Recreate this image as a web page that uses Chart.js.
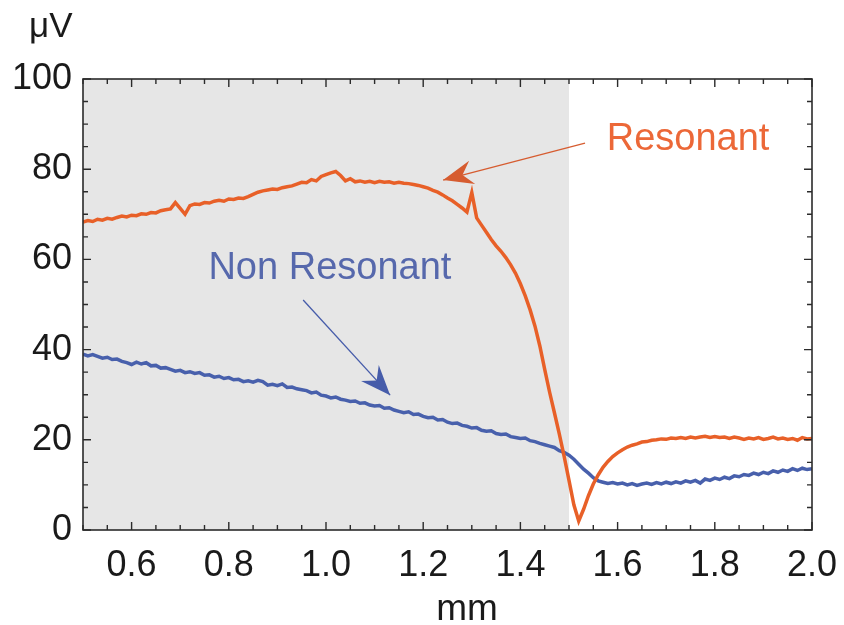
<!DOCTYPE html>
<html>
<head>
<meta charset="utf-8">
<script src="https://cdn.jsdelivr.net/npm/chart.js@4"></script>
<style>
  html, body { margin: 0; padding: 0; background: #fff; }
  #wrap { width: 844px; height: 625px; }
</style>
</head>
<body>
<div id="wrap"><canvas id="chart" width="844" height="625"></canvas></div>
<script>
// position along the sample, mm
const positions = [
  0.50, 0.51, 0.52, 0.53, 0.54, 0.55, 0.56, 0.57, 0.58, 0.59,
  0.60, 0.61, 0.62, 0.63, 0.64, 0.65, 0.66, 0.67, 0.68, 0.69,
  0.70, 0.71, 0.72, 0.73, 0.74, 0.75, 0.76, 0.77, 0.78, 0.79,
  0.80, 0.81, 0.82, 0.83, 0.84, 0.85, 0.86, 0.87, 0.88, 0.89,
  0.90, 0.91, 0.92, 0.93, 0.94, 0.95, 0.96, 0.97, 0.98, 0.99,
  1.00, 1.01, 1.02, 1.03, 1.04, 1.05, 1.06, 1.07, 1.08, 1.09,
  1.10, 1.11, 1.12, 1.13, 1.14, 1.15, 1.16, 1.17, 1.18, 1.19,
  1.20, 1.21, 1.22, 1.23, 1.24, 1.25, 1.26, 1.27, 1.28, 1.29,
  1.30, 1.31, 1.32, 1.33, 1.34, 1.35, 1.36, 1.37, 1.38, 1.39,
  1.40, 1.41, 1.42, 1.43, 1.44, 1.45, 1.46, 1.47, 1.48, 1.49,
  1.50, 1.51, 1.52, 1.53, 1.54, 1.55, 1.56, 1.57, 1.58, 1.59,
  1.60, 1.61, 1.62, 1.63, 1.64, 1.65, 1.66, 1.67, 1.68, 1.69,
  1.70, 1.71, 1.72, 1.73, 1.74, 1.75, 1.76, 1.77, 1.78, 1.79,
  1.80, 1.81, 1.82, 1.83, 1.84, 1.85, 1.86, 1.87, 1.88, 1.89,
  1.90, 1.91, 1.92, 1.93, 1.94, 1.95, 1.96, 1.97, 1.98, 1.99,
  2.00
];

// signal in µV
const resonant = [
  68.3, 68.6, 68.4, 68.9, 68.7, 69.1, 68.9, 69.3, 69.6, 69.4,
  69.8, 69.7, 70.1, 70.0, 70.4, 70.3, 70.8, 71.0, 71.2, 72.6,
  71.3, 70.0, 71.9, 72.3, 72.2, 72.6, 72.5, 72.9, 73.1, 72.9,
  73.4, 73.3, 73.6, 73.5, 73.9, 74.4, 74.9, 75.2, 75.4, 75.6,
  75.5, 75.9, 76.1, 76.3, 76.7, 77.1, 77.0, 77.7, 77.4, 78.4,
  78.8, 79.2, 79.5, 78.6, 77.4, 77.9, 77.2, 77.4, 77.1, 77.3,
  77.0, 77.3, 77.1, 77.2, 76.9, 77.1, 76.9, 76.8, 76.6, 76.4,
  76.1, 75.8, 75.3, 74.9, 74.3, 73.6, 73.0, 72.2, 71.4, 70.5,
  74.8, 69.2, 67.6, 66.0, 64.4, 63.0, 61.8, 60.4, 58.8, 56.9,
  54.6, 51.9, 48.8, 45.2, 40.8, 35.6, 30.6, 26.0, 21.3, 16.3,
  11.0, 5.6, 2.0, 4.6, 7.6, 10.2, 12.2, 13.9, 15.2, 16.3,
  17.1, 17.8, 18.4, 18.8, 19.1, 19.5, 19.6, 19.9, 20.0, 20.2,
  20.1, 20.4, 20.3, 20.5, 20.3, 20.6, 20.4, 20.6, 20.8, 20.5,
  20.7, 20.5, 20.6, 20.3, 20.6, 20.4, 20.1, 20.4, 20.2, 20.5,
  20.1, 20.3, 20.6, 20.2, 20.4, 20.1, 20.3, 19.9, 20.5, 20.2,
  20.3
];

const nonResonant = [
  39.0, 38.6, 38.9, 38.5, 38.1, 38.3, 37.8, 37.9, 37.4, 37.1,
  36.7, 37.2, 36.8, 37.1, 36.4, 36.5, 35.9, 36.0, 35.6, 35.2,
  35.4, 34.9, 35.1, 34.7, 34.9, 34.3, 34.4, 33.9, 34.1, 33.6,
  33.8, 33.3, 33.4, 32.9, 33.1, 32.8, 33.2, 32.9, 32.1, 32.3,
  32.0, 32.4, 31.6, 31.7, 31.3, 31.1, 30.9, 30.4, 30.6, 29.9,
  29.7, 29.3, 29.5, 29.0, 28.8, 28.5, 28.6, 28.1, 28.2, 27.7,
  27.5, 27.6, 27.0, 27.1, 26.6, 26.3, 26.0, 26.2, 25.6, 25.7,
  25.2, 24.9, 25.0, 24.4, 24.5, 23.9, 23.6, 23.7, 23.2, 23.0,
  22.6, 22.7, 22.1, 21.9, 22.0, 21.4, 21.2, 21.3, 20.7, 20.5,
  20.3, 20.4, 19.8, 19.6, 19.2, 18.9, 18.6, 18.3, 17.6, 17.2,
  16.6, 15.7, 14.6, 13.5, 12.6, 11.6, 10.9, 10.6, 10.3, 10.5,
  10.2, 10.4, 10.0, 10.3, 9.9, 10.2, 10.4, 10.1, 10.5, 10.2,
  10.6, 10.3, 10.7, 10.4, 10.9, 10.6, 11.0, 10.4, 11.3, 11.0,
  11.5, 11.2, 11.7, 11.4, 12.0, 11.8, 12.3, 12.1, 12.6, 12.3,
  12.8, 12.5, 13.1, 12.8, 13.3, 13.0, 13.6, 13.2, 13.7, 13.4,
  13.6
];

const xTickValues = [0.6, 0.8, 1.0, 1.2, 1.4, 1.6, 1.8, 2.0];
const yTickValues = [0, 20, 40, 60, 80, 100];
const shadedRange = [0.5, 1.5];

const ORANGE = "rgb(232, 96, 40)";
const BLUE = "rgb(72, 96, 172)";
const FONT = "'Liberation Sans', Arial, sans-serif";

// labels + arrows, in data units
const labels = [
  { text: "Resonant", x: 1.745, y: 86.5, color: "rgb(236, 104, 56)",
    from: [1.533, 85.8], to: [1.241, 77.6], arrowColor: "rgb(214, 92, 48)" },
  { text: "Non Resonant", x: 1.008, y: 57.9, color: "rgb(86, 104, 172)",
    from: [0.953, 51.0], to: [1.132, 29.9], arrowColor: "rgb(70, 92, 170)" }
];

function toPoints(ys) {
  return positions.map((x, i) => ({ x: x, y: ys[i] }));
}

const shadePlugin = {
  id: "shade",
  beforeDatasetsDraw(chart) {
    const { ctx, chartArea, scales } = chart;
    const x0 = scales.x.getPixelForValue(shadedRange[0]);
    const x1 = scales.x.getPixelForValue(shadedRange[1]);
    ctx.save();
    ctx.fillStyle = "#e6e6e6";
    ctx.fillRect(x0, chartArea.top, x1 - x0, chartArea.bottom - chartArea.top);
    ctx.restore();
  }
};

function drawArrowHead(ctx, fx, fy, tx, ty, color) {
  const ang = Math.atan2(ty - fy, tx - fx);
  const len = 30, half = 12, notch = 20;
  ctx.save();
  ctx.translate(tx, ty);
  ctx.rotate(ang);
  ctx.fillStyle = color;
  ctx.beginPath();
  ctx.moveTo(0, 0);
  ctx.lineTo(-len, -half);
  ctx.lineTo(-notch, 0);
  ctx.lineTo(-len, half);
  ctx.closePath();
  ctx.fill();
  ctx.restore();
}

const annotationPlugin = {
  id: "notes",
  afterDatasetsDraw(chart) {
    const { ctx, scales } = chart;
    ctx.save();
    labels.forEach(l => {
      const fx = scales.x.getPixelForValue(l.from[0]);
      const fy = scales.y.getPixelForValue(l.from[1]);
      const tx = scales.x.getPixelForValue(l.to[0]);
      const ty = scales.y.getPixelForValue(l.to[1]);
      ctx.strokeStyle = l.arrowColor;
      ctx.lineWidth = 1.3;
      ctx.beginPath();
      ctx.moveTo(fx, fy);
      ctx.lineTo(tx, ty);
      ctx.stroke();
      drawArrowHead(ctx, fx, fy, tx, ty, l.arrowColor);

      ctx.font = "38px " + FONT;
      ctx.fillStyle = l.color;
      ctx.textAlign = "center";
      ctx.textBaseline = "middle";
      ctx.fillText(l.text, scales.x.getPixelForValue(l.x), scales.y.getPixelForValue(l.y));
    });
    ctx.restore();
  }
};

// frame with inward ticks on all four sides, plus axis names
const framePlugin = {
  id: "frame",
  afterDraw(chart) {
    const { ctx, chartArea: a, scales } = chart;
    ctx.save();
    ctx.strokeStyle = "#2b2b2b";
    ctx.lineWidth = 1.6;
    ctx.strokeRect(a.left, a.top, a.right - a.left, a.bottom - a.top);

    ctx.lineWidth = 1.4;
    ctx.beginPath();
    for (let v = 0.5; v <= 2.0001; v += 0.05) {
      const major = Math.abs(v * 10 / 2 - Math.round(v * 10 / 2)) < 1e-6;
      const len = major ? 8 : 5;
      const px = scales.x.getPixelForValue(v);
      ctx.moveTo(px, a.bottom); ctx.lineTo(px, a.bottom - len);
      ctx.moveTo(px, a.top); ctx.lineTo(px, a.top + len);
    }
    for (let v = 0; v <= 100; v += 5) {
      const len = v % 20 === 0 ? 8 : 5;
      const py = scales.y.getPixelForValue(v);
      ctx.moveTo(a.left, py); ctx.lineTo(a.left + len, py);
      ctx.moveTo(a.right, py); ctx.lineTo(a.right - len, py);
    }
    ctx.stroke();

    ctx.fillStyle = "#1a1a1a";
    ctx.textBaseline = "alphabetic";
    ctx.font = "35px " + FONT;
    ctx.textAlign = "left";
    ctx.fillText("\u03bcV", 29, 37);
    ctx.font = "37px " + FONT;
    ctx.textAlign = "center";
    ctx.fillText("mm", 467, 620);
    ctx.restore();
  }
};

new Chart(document.getElementById("chart"), {
  type: "scatter",
  data: {
    datasets: [
      {
        label: "Resonant",
        data: toPoints(resonant),
        showLine: true,
        borderColor: ORANGE,
        borderWidth: 3.5,
        pointRadius: 0,
        tension: 0
      },
      {
        label: "Non Resonant",
        data: toPoints(nonResonant),
        showLine: true,
        borderColor: BLUE,
        borderWidth: 3.5,
        pointRadius: 0,
        tension: 0
      }
    ]
  },
  options: {
    responsive: false,
    animation: false,
    layout: { padding: { top: 79, right: 32, left: 0, bottom: 0 } },
    plugins: { legend: { display: false }, tooltip: { enabled: false } },
    scales: {
      x: {
        type: "linear",
        min: 0.5,
        max: 2.0,
        afterBuildTicks: s => { s.ticks = xTickValues.map(v => ({ value: v })); },
        afterFit: s => { s.height = 95; s.paddingLeft = 0; s.paddingRight = 0; },
        grid: { display: false, drawTicks: false },
        border: { display: false },
        ticks: {
          padding: 14,
          color: "#1a1a1a",
          font: { family: FONT, size: 36 },
          callback: v => v.toFixed(1)
        }
      },
      y: {
        min: 0,
        max: 100,
        afterBuildTicks: s => { s.ticks = yTickValues.map(v => ({ value: v })); },
        afterFit: s => { s.width = 83; s.paddingTop = 0; s.paddingBottom = 0; },
        grid: { display: false, drawTicks: false },
        border: { display: false },
        ticks: {
          padding: 11,
          color: "#1a1a1a",
          font: { family: FONT, size: 36 }
        }
      }
    }
  },
  plugins: [shadePlugin, annotationPlugin, framePlugin]
});
</script>
</body>
</html>
